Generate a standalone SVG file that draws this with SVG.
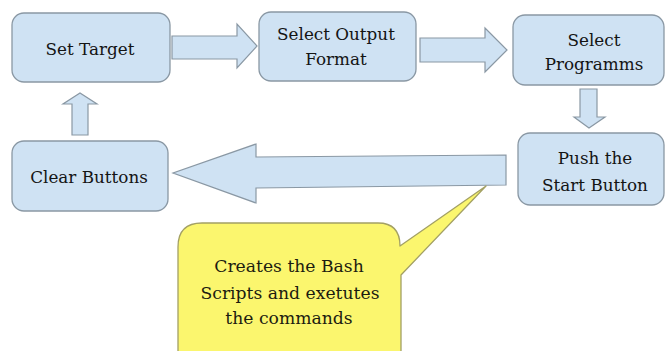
<svg xmlns="http://www.w3.org/2000/svg" width="665" height="351" viewBox="0 0 665 351">
  <style>
    .box { fill: #cfe2f3; stroke: #8a98a4; stroke-width: 1.3; }
    .arrow { fill: #cfe2f3; stroke: #8a98a4; stroke-width: 1.2; stroke-linejoin: miter; }
    .label { font-family: "DejaVu Serif", "Liberation Serif", serif; font-size: 16.8px; fill: #141414; text-anchor: middle; }
    .note { fill: #fbf66e; stroke: #a3a064; stroke-width: 1.3; stroke-linejoin: round; }
    .note-text { font-family: "DejaVu Serif", "Liberation Serif", serif; font-size: 17.2px; fill: #1c1c10; text-anchor: middle; }
  </style>
  <rect width="665" height="351" fill="#ffffff"/>

  <!-- flow arrows -->
  <g id="connectors">
    <polygon class="arrow" points="172,36 237,36 237,24 257,46 237,68 237,59 172,59"/>
    <polygon class="arrow" points="420,38 485,38 485,28 507,50 485,72 485,62 420,62"/>
    <polygon class="arrow" points="580,89 597,89 597,117 605,117 589,128 574,117 580,117"/>
    <polygon class="arrow" points="506,155 256,157 256,144 173,173 256,203 256,188 506,185"/>
    <polygon class="arrow" points="72,135 72,104 63,104 80,93 97,104 88,104 88,135"/>
  </g>

  <g id="set-target">
    <rect class="box" x="12" y="13" width="158" height="69" rx="12"/>
    <text class="label" x="90" y="55">Set Target</text>
  </g>

  <g id="select-output-format">
    <rect class="box" x="259" y="12" width="157" height="69" rx="12"/>
    <text class="label" x="336" y="40">Select Output</text>
    <text class="label" x="336" y="65">Format</text>
  </g>

  <g id="select-programms">
    <rect class="box" x="513" y="15" width="151" height="70" rx="12"/>
    <text class="label" x="594" y="46">Select</text>
    <text class="label" x="594" y="70">Programms</text>
  </g>

  <g id="push-start-button">
    <rect class="box" x="518" y="133" width="146" height="72" rx="12"/>
    <text class="label" x="595" y="164">Push the</text>
    <text class="label" x="595" y="191">Start Button</text>
  </g>

  <g id="clear-buttons">
    <rect class="box" x="12" y="141" width="156" height="70" rx="12"/>
    <text class="label" x="89" y="183">Clear Buttons</text>
  </g>

  <!-- callout pointing at the long return arrow -->
  <g id="bash-note">
    <path class="note" d="M 202,223 H 378 Q 400,223 400,246 L 486,186 L 401,275 L 401,356 H 178 V 247 Q 178,223 202,223 Z"/>
    <text class="note-text" x="289" y="272">Creates the Bash</text>
    <text class="note-text" x="290" y="299">Scripts and exetutes</text>
    <text class="note-text" x="289" y="324">the commands</text>
  </g>
</svg>
